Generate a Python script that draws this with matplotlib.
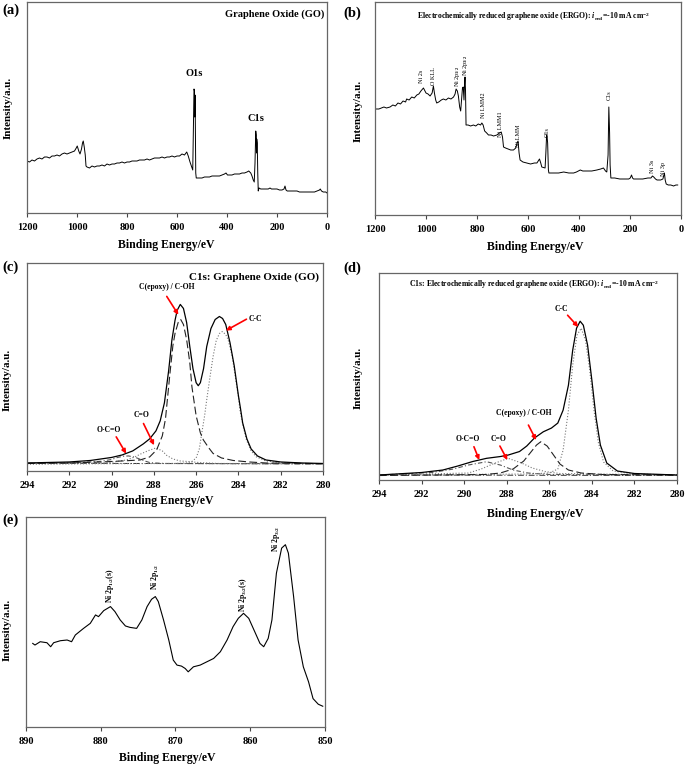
import matplotlib.pyplot as plt

W, H = 685, 769

plt.rcParams['font.family'] = ['Liberation Serif', 'DejaVu Serif']
plt.rcParams['font.weight'] = 'bold'
plt.rcParams['mathtext.fontset'] = 'custom'
plt.rcParams['mathtext.rm'] = 'Liberation Serif:bold'
plt.rcParams['mathtext.it'] = 'Liberation Serif:italic:bold'
plt.rcParams['mathtext.bf'] = 'Liberation Serif:bold'

# ---- (a) survey spectrum, graphene oxide ----
a_be = [1200, 1190, 1180, 1170, 1160, 1150, 1140, 1130, 1120, 1110, 1100, 1090, 1080, 1070,
        1060, 1050, 1040, 1030, 1020, 1010, 1003, 999, 993, 988, 982, 978, 975, 971, 967, 964,
        960, 950, 940, 930, 920, 910, 900, 890, 880, 870, 860, 850, 840, 830, 820, 810, 800,
        790, 780, 770, 760, 750, 740, 730, 720, 710, 700, 690, 680, 670, 660, 650, 640, 630,
        620, 610, 600, 590, 580, 570, 561, 555, 548, 541, 537, 534, 532, 530, 529, 528, 527,
        525, 523, 510, 500, 490, 480, 470, 460, 450, 440, 430, 420, 410, 404, 398, 390, 380,
        370, 360, 350, 340, 330, 320, 313, 305, 300, 295, 291, 288, 285, 283, 282, 281, 279,
        277, 275, 272, 265, 255, 245, 235, 228, 222, 210, 200, 190, 180, 172, 168, 164, 159,
        150, 140, 130, 120, 110, 100, 90, 80, 70, 60, 50, 40, 30, 27, 22, 15, 5, 0]
a_int = [52, 51, 53, 52, 54, 55, 54, 56, 56, 55, 57, 57, 58, 57,
         59, 60, 59, 60, 61, 62, 65, 67, 62, 59, 64, 70, 72, 66, 58, 47,
         46, 45, 47, 46, 47, 47, 48, 47, 49, 48, 49, 49, 50, 50, 51, 50, 51,
         51, 52, 52, 52, 53, 53, 53, 54, 53, 54, 55, 55, 55, 56, 55, 56, 56,
         57, 56, 57, 57, 59, 58, 61, 57, 51, 46, 43, 90, 124, 122, 96, 118, 100,
         40, 35, 35, 35, 36, 36, 36, 37, 37, 37, 37, 38, 39, 40, 38, 38, 38,
         39, 39, 39, 40, 40, 41, 42, 40, 37, 33, 31, 50, 82, 78, 60, 74, 70,
         40, 22, 25, 24, 24, 24, 24, 25, 24, 24, 24, 23, 23, 24, 27, 23, 22,
         22, 22, 22, 22, 21, 21, 21, 21, 21, 21, 21, 22, 23, 24, 22, 21, 21, 20]

# ---- (b) survey spectrum, ERGO ----
b_be = [1196, 1185, 1175, 1165, 1155, 1141, 1130, 1120, 1110, 1100, 1090, 1080, 1076, 1066,
        1056, 1046, 1036, 1028, 1020, 1010, 1004, 1000, 992, 984, 976, 971, 967, 962, 958,
        950, 940, 932, 922, 912, 902, 892, 886, 882, 877, 873, 868, 864, 860, 857, 854, 851,
        849, 847, 845, 843, 835, 825, 814, 805, 795, 786, 781, 776, 770, 762, 755, 745, 735,
        722, 712, 705, 700, 696, 688, 678, 668, 657, 648, 643, 639, 635, 631, 620, 605, 590,
        575, 565, 555, 550, 546, 533, 530, 527, 525, 523, 520, 518, 500, 480, 460, 440, 421,
        410, 395, 385, 370, 350, 330, 315, 304, 296, 291, 286, 283, 281, 280, 278, 275, 260,
        240, 220, 205, 199, 194, 190, 186, 170, 150, 130, 118, 112, 107, 100, 94, 80, 71, 67,
        65, 62, 58, 50, 40, 29, 20, 13]
b_int = [106, 106, 107, 108, 107, 108, 110, 109, 112, 111, 114, 113, 116, 115,
         118, 117, 120, 121, 124, 127, 124, 122, 121, 119, 122, 129, 122, 115, 112,
         113, 115, 116, 115, 117, 116, 118, 121, 126, 124, 119, 108, 104, 118, 127, 128, 115,
         130, 138, 124, 90, 90, 89, 90, 89, 91, 90, 92, 90, 84, 82, 80, 80, 79,
         80, 82, 83, 78, 68, 67, 66, 65, 65, 67, 72, 74, 62, 55, 53, 52, 51,
         52, 52, 56, 52, 48, 47, 62, 80, 78, 72, 45, 42, 42, 42, 43, 42, 42,
         43, 45, 44, 44, 44, 45, 46, 47, 44, 43, 60, 108, 92, 82, 50, 37, 37,
         36, 36, 36, 37, 40, 37, 36, 36, 36, 37, 37, 39, 38, 36, 35, 35, 36, 40,
         42, 35, 31, 30, 30, 29, 30, 30]
b_peaks = ['Ni 2s', 'O KLL', 'Ni 2p$_{1/2}$', 'Ni 2p$_{3/2}$', 'Ni LMM2', 'Ni LMM1',
           'Ni LMM', 'O1s', 'C1s', 'Ni 3s', 'Ni 3p']
b_peak_be = [1016, 969, 878, 847, 776, 706, 639, 525, 282, 110, 67]
b_peak_int = [132, 130, 128, 139, 97, 78, 68, 78, 115, 42, 39]

# ---- (c) C1s, graphene oxide ----
c_env_be = [294.0, 293.0, 292.0, 291.0, 290.5, 290.0, 289.5, 289.0, 288.5, 288.2, 287.9,
            287.7, 287.5, 287.3, 287.15, 287.0, 286.9, 286.75, 286.6, 286.45, 286.3, 286.15,
            286.0, 285.9, 285.8, 285.65, 285.5, 285.3, 285.1, 284.9, 284.75, 284.6, 284.4,
            284.2, 284.0, 283.9, 283.8, 283.6, 283.4, 283.1, 282.7, 282.0, 281.0, 280.0]
c_env = [8, 8.5, 9, 10.5, 12, 13.5, 16, 20, 27, 32, 40,
         50, 68, 100, 130, 150, 160, 166, 162, 148, 124, 102,
         88, 85, 88, 102, 124, 142, 151, 154, 152, 146, 128,
         105, 75, 62, 48, 32, 22, 15, 11, 9, 8, 7.5]
c_epoxy_be = [294.0, 292.0, 290.5, 289.5, 288.65, 288.2, 287.87, 287.6, 287.45, 287.24, 287.1,
              287.0, 286.85, 286.73, 286.6, 286.45, 286.3, 286.2, 286.0, 285.8, 285.66, 285.4,
              285.2, 284.8, 284.25, 283.5, 282.7, 280.0]
c_epoxy = [7.5, 8, 9, 10, 11, 14, 21, 35, 52, 97, 125,
           137, 148, 151, 146, 131, 108, 84, 55, 38, 31, 23,
           17.5, 13, 10.5, 9, 8, 7.3]
c_cc_be = [294.0, 287.0, 286.45, 286.2, 286.0, 285.85, 285.74, 285.6, 285.5, 285.35, 285.2,
           285.05, 284.9, 284.76, 284.6, 284.49, 284.3, 284.17, 284.0, 283.93, 283.78, 283.62,
           283.4, 283.15, 282.7, 282.2, 281.0, 280.0]
c_cc = [7, 7.5, 8, 9.5, 13, 22, 37, 55, 71, 93, 114,
        130, 137, 139, 136, 131, 115, 97, 74, 61, 45, 31,
        20, 14, 10, 8.7, 7.5, 7.3]
c_co_be = [294.0, 291.0, 290.07, 289.6, 289.3, 288.9, 288.65, 288.3, 287.9, 287.6, 287.4,
           287.1, 286.76, 286.3, 285.9, 285.0, 280.0]
c_co = [7, 7.5, 8.5, 10, 11, 14, 16.7, 20, 23, 20, 15.7,
        12, 10, 9.3, 8.5, 7.5, 7.3]
c_oco_be = [294.0, 291.5, 290.5, 290.0, 289.75, 289.45, 289.2, 288.9, 288.65, 288.4, 288.18,
            287.5, 280.0]
c_oco = [7.5, 8.5, 9.7, 11.5, 13.3, 14.7, 15, 13.8, 11.7, 9.8, 8.3, 7.5, 7.3]
c_bg_be = [294.0, 280.0]
c_bg = [7.8, 7.0]

# ---- (d) C1s, ERGO ----
d_env_be = [294.0, 292.0, 291.0, 290.3, 289.6, 288.95, 288.3, 287.93, 287.4, 287.06, 286.7,
            286.28, 285.9, 285.6, 285.35, 285.1, 284.9, 284.72, 284.55, 284.4, 284.2, 284.0,
            283.8, 283.6, 283.3, 282.8, 282.0, 280.0]
d_env = [5, 7.5, 10, 14, 18.5, 21.7, 23.5, 25, 28.5, 34, 42,
         48.3, 52, 57, 70, 95, 130, 152, 159, 155, 135, 100,
         62, 35, 17, 9, 6.5, 5]
d_cc_be = [294.0, 287.0, 286.0, 285.6, 285.35, 285.1, 284.9, 284.7, 284.5, 284.3, 284.1,
           283.9, 283.7, 283.45, 283.0, 282.0, 280.0]
d_cc = [5, 6, 7, 11, 30, 70, 115, 145, 152, 140, 110,
        70, 38, 18, 9, 6, 5]
d_epoxy_be = [294.0, 289.0, 288.3, 287.7, 287.2, 286.9, 286.6, 286.4, 286.1, 285.8, 285.5,
              285.1, 284.5, 283.5, 280.0]
d_epoxy = [4.5, 5.5, 7, 11, 19, 27, 35, 38.3, 34, 25, 16,
           10, 7, 5.5, 5]
d_co_be = [294.0, 289.8, 289.2, 288.6, 287.93, 287.3, 286.8, 286.2, 285.5, 280.0]
d_co = [5, 7, 11, 16.5, 21.7, 17, 12, 8.5, 6.5, 5]
d_oco_be = [294.0, 291.5, 290.5, 289.8, 288.95, 288.3, 287.7, 287.0, 286.0, 280.0]
d_oco = [5, 7.5, 11, 15, 18.3, 15, 10, 7, 5.5, 5]
d_bg_be = [294.0, 280.0]
d_bg = [5, 4.5]

# ---- (e) Ni 2p ----
e_be = [889.1, 888.8, 888.1, 887.2, 886.7, 886.3, 885.4, 884.5, 883.9, 883.4, 882.3, 881.4,
        880.7, 880.3, 879.6, 878.7, 878.1, 877.4, 876.7, 876.1, 875.2, 874.5, 873.8, 873.2,
        872.7, 872.3, 871.6, 870.9, 870.3, 869.8, 869.2, 868.7, 868.3, 867.6, 866.7, 865.8,
        864.9, 864.0, 863.1, 862.3, 861.6, 860.9, 860.2, 859.4, 858.7, 858.2, 857.6, 857.1,
        856.5, 855.8, 855.3, 854.9, 854.2, 853.6, 852.9, 852.2, 851.6, 850.9, 850.3]
e_int = [83.3, 81.7, 85, 84, 80, 84, 86, 86.7, 85, 91.7, 98.3, 103.3,
         111.7, 110, 116, 120, 115, 106.7, 100.7, 99.3, 98.3, 106.7, 120, 127.3,
         130, 125, 106.7, 86.7, 66.7, 61.7, 60.7, 58.3, 55, 60, 61.7, 65,
         68.3, 75, 86.7, 100, 108.3, 113.3, 108.3, 95, 83.3, 80, 88.3, 106.7,
         153.3, 178.3, 181.7, 173.3, 130, 86.7, 60, 45, 28.3, 22.7, 20.7]
e_peaks = ['Ni 2p$_{1/2}$(s)', 'Ni 2p$_{1/2}$', 'Ni 2p$_{3/2}$(s)', 'Ni 2p$_{3/2}$']
e_peak_be = [878.7, 872.7, 861.0, 856.5]
e_peak_int = [124, 137, 115, 174]


def px_axes(fig, left, top, right, bottom):
    return fig.add_axes([left / W, 1 - bottom / H, (right - left) / W, (bottom - top) / H])


def style(ax, xlim, xticks, ytop):
    ax.set_xlim(*xlim)
    ax.set_ylim(0, ytop)
    ax.set_xticks(xticks)
    ax.set_yticks([])
    for s in ax.spines.values():
        s.set_color('#666666')
        s.set_linewidth(0.9)
    ax.tick_params(axis='x', direction='out', length=3, width=0.8, colors='#444444',
                   labelcolor='black', labelsize=7.5, pad=4)
    for t in ax.get_xticklabels():
        t.set_fontweight('bold')


def fig_text(x, y, s, **kw):
    fig.text(x / W, 1 - y / H, s, **kw)


def arrow(ax, start, end):
    ax.annotate('', xy=end, xytext=start,
                arrowprops=dict(arrowstyle='-|>', color='red', lw=1.2, mutation_scale=6,
                                shrinkA=0, shrinkB=0))


fig = plt.figure(figsize=(W / 100, H / 100), dpi=100)

# (a)
ax = px_axes(fig, 27, 2, 327, 213)
ax.plot(a_be, a_int, color='black', lw=0.7)
style(ax, (1200, 0), [1200, 1000, 800, 600, 400, 200, 0], 211)
ax.text(0.99, 0.94, 'Graphene Oxide (GO)', transform=ax.transAxes, ha='right', va='center',
        fontsize=7.5, fontweight='bold')
ax.text(532, 135, 'O1s', ha='center', va='bottom', fontsize=7.5, fontweight='bold')
ax.text(284, 90, 'C1s', ha='center', va='bottom', fontsize=7.5, fontweight='bold')

# (b)
ax = px_axes(fig, 375, 2, 681, 215)
ax.plot(b_be, b_int, color='black', lw=0.7)
style(ax, (1200, 0), [1200, 1000, 800, 600, 400, 200, 0], 213)
ax.text(0.52, 0.93, 'Electrochemically reduced graphene oxide (ERGO): '
        r'$\mathit{i}_{\mathrm{red}}$=-10 mA cm$^{-2}$',
        transform=ax.transAxes, ha='center', va='center', fontsize=5.6, fontweight='bold')
for name, be, inten in zip(b_peaks, b_peak_be, b_peak_int):
    ax.text(be, inten, name, rotation=90, ha='center', va='bottom', fontsize=4.4,
            fontweight='normal')

# (c)
ax = px_axes(fig, 27, 263, 323, 471)
ax.plot(c_bg_be, c_bg, color='#333333', lw=0.7, ls=(0, (6, 2, 1, 2)))
ax.plot(c_oco_be, c_oco, color='#555555', lw=0.8, ls=(0, (4, 2, 1, 2)))
ax.plot(c_co_be, c_co, color='#777777', lw=0.8, ls=':')
ax.plot(c_cc_be, c_cc, color='#777777', lw=0.8, ls=':')
ax.plot(c_epoxy_be, c_epoxy, color='#222222', lw=0.8, ls=(0, (7, 3)))
ax.plot(c_env_be, c_env, color='black', lw=0.9)
style(ax, (294, 280), list(range(294, 279, -2)), 207.3)
ax.text(0.985, 0.93, 'C1s: Graphene Oxide (GO)', transform=ax.transAxes, ha='right',
        va='center', fontsize=8, fontweight='bold')
ax.text(287.4, 179, 'C(epoxy) / C-OH', ha='center', va='bottom', fontsize=5.5)
arrow(ax, (287.39, 174), (286.84, 155.7))
ax.text(283.22, 151.3, 'C-C', ha='center', va='center', fontsize=5.5)
arrow(ax, (283.62, 151.3), (284.59, 140))
ax.text(288.57, 55.7, 'C=O', ha='center', va='center', fontsize=5.5)
arrow(ax, (288.49, 47.3), (287.99, 25.7))
ax.text(290.15, 40.7, 'O-C=O', ha='center', va='center', fontsize=5.5)
arrow(ax, (289.78, 34), (289.31, 17.3))

# (d)
ax = px_axes(fig, 379, 273, 677, 480)
ax.plot(d_bg_be, d_bg, color='#333333', lw=0.7, ls=(0, (6, 2, 1, 2)))
ax.plot(d_oco_be, d_oco, color='#555555', lw=0.8, ls=(0, (4, 2, 1, 2)))
ax.plot(d_co_be, d_co, color='#777777', lw=0.8, ls=':')
ax.plot(d_cc_be, d_cc, color='#777777', lw=0.8, ls=':')
ax.plot(d_epoxy_be, d_epoxy, color='#222222', lw=0.8, ls=(0, (7, 3)))
ax.plot(d_env_be, d_env, color='black', lw=0.9)
style(ax, (294, 280), list(range(294, 279, -2)), 207.3)
ax.text(0.52, 0.945, r'C1s: Electrochemically reduced graphene oxide (ERGO): '
        r'$\mathit{i}_{\mathrm{red}}$=-10 mA cm$^{-2}$',
        transform=ax.transAxes, ha='center', va='center', fontsize=5.6, fontweight='bold')
ax.text(285.42, 171.7, 'C-C', ha='center', va='center', fontsize=5.5)
arrow(ax, (285.14, 165), (284.64, 153.3))
ax.text(287.22, 66.7, 'C(epoxy) / C-OH', ha='center', va='center', fontsize=5.5)
arrow(ax, (286.98, 55), (286.62, 40))
ax.text(288.4, 41, 'C=O', ha='center', va='center', fontsize=5.5)
arrow(ax, (288.32, 34), (287.97, 20))
ax.text(289.82, 41, 'O-C=O', ha='center', va='center', fontsize=5.5)
arrow(ax, (289.54, 33.3), (289.29, 20))

# (e)
ax = px_axes(fig, 26, 517, 325, 727)
ax.plot(e_be, e_int, color='black', lw=0.8)
style(ax, (890, 850), [890, 880, 870, 860, 850], 209.3)
for name, be, inten in zip(e_peaks, e_peak_be, e_peak_int):
    ax.text(be, inten, name, rotation=90, ha='center', va='bottom', fontsize=5.5)

# axis titles and panel letters
for x, y in [(166, 245), (535, 247), (165, 501), (535, 514), (167, 758)]:
    fig_text(x, y, 'Binding Energy/eV', ha='center', va='center', fontsize=8.5,
             fontweight='bold')
for x, y in [(8, 108), (358, 111), (7, 380), (358, 378), (7, 630)]:
    fig_text(x, y, 'Intensity/a.u.', ha='center', va='center', rotation=90, fontsize=8,
             fontweight='bold')
for x, y, s in [(2, 10, '(a)'), (343, 13, '(b)'), (2, 267, '(c)'), (343, 268, '(d)'),
                (2, 520, '(e)')]:
    fig_text(x, y, s, ha='left', va='center', fontsize=10.5, fontweight='bold')

fig.savefig('out.png', dpi=100)
